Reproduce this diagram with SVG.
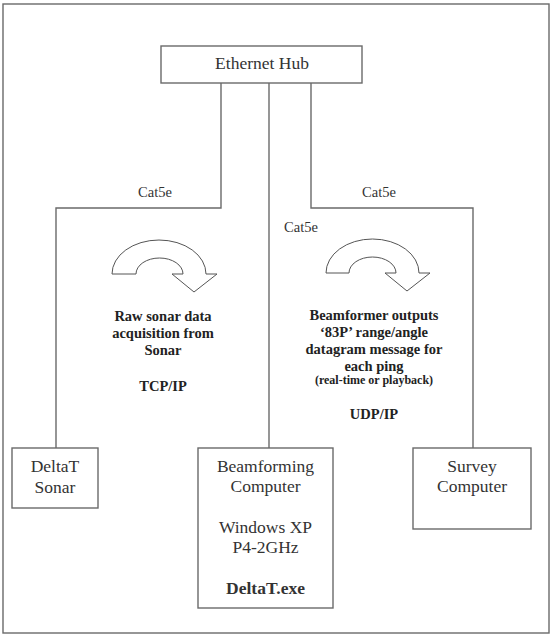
<svg xmlns="http://www.w3.org/2000/svg" width="552" height="636" viewBox="0 0 552 636">
<style>
.box{fill:#fff;stroke:#6a6a6a;stroke-width:1.4}
.wire{fill:none;stroke:#6a6a6a;stroke-width:1.4}
.arr{fill:#fff;stroke:#555;stroke-width:1}
.t{font-family:"Liberation Serif","Times New Roman",serif;fill:#333;text-anchor:middle}
.n{font-size:17.5px}
.c{font-size:14.5px}
.b{font-size:14.5px;font-weight:bold;fill:#222}
.s{font-size:12px;font-weight:bold;fill:#222}
</style>
<rect width="552" height="636" fill="#fff"/>
<rect x="3" y="4" width="546" height="629" class="box"/>
<g id="connectors">
<polyline class="wire" points="221,83 221,208 56,208 56,448"/>
<line class="wire" x1="269" y1="83" x2="269" y2="448"/>
<polyline class="wire" points="311,83 311,208 473,208 473,448"/>
<text class="t c" x="155" y="197">Cat5e</text>
<text class="t c" x="379" y="197">Cat5e</text>
<text class="t c" x="301" y="232">Cat5e</text>
</g>
<g id="hub">
<rect class="box" x="161" y="46" width="201" height="37"/>
<text class="t n" x="262" y="69">Ethernet Hub</text>
</g>
<g id="flow-left">
<path class="arr" d="M112,274 A47,34 0 0 1 206,274 L217,274 L194,292 L172,274 L183,274 A23.5,16 0 0 0 136,274 Z"/>
<text class="t b" x="163" y="321">Raw sonar data</text>
<text class="t b" x="163" y="338">acquisition from</text>
<text class="t b" x="163" y="355">Sonar</text>
<text class="t b" x="163" y="391">TCP/IP</text>
</g>
<g id="flow-right">
<path class="arr" d="M326,273 A46.5,34 0 0 1 419,273 L430,273 L407,291 L385,273 L396,273 A23.5,16 0 0 0 349,273 Z"/>
<text class="t b" x="374" y="320">Beamformer outputs</text>
<text class="t b" x="374" y="337">‘83P’ range/angle</text>
<text class="t b" x="374" y="354">datagram message for</text>
<text class="t b" x="374" y="371">each ping</text>
<text class="t s" x="374" y="384">(real-time or playback)</text>
<text class="t b" x="374" y="419">UDP/IP</text>
</g>
<g id="sonar">
<rect class="box" x="12" y="448" width="86" height="60"/>
<text class="t n" x="55" y="472">DeltaT</text>
<text class="t n" x="55" y="493">Sonar</text>
</g>
<g id="beamformer">
<rect class="box" x="198" y="448" width="135" height="160"/>
<text class="t n" x="265.5" y="472">Beamforming</text>
<text class="t n" x="265.5" y="492">Computer</text>
<text class="t n" x="265.5" y="533">Windows XP</text>
<text class="t n" x="265.5" y="553">P4-2GHz</text>
<text class="t n" x="265.5" y="594" font-weight="bold" fill="#222">DeltaT.exe</text>
</g>
<g id="survey">
<rect class="box" x="413" y="448" width="118" height="81"/>
<text class="t n" x="472" y="472">Survey</text>
<text class="t n" x="472" y="492">Computer</text>
</g>
</svg>
